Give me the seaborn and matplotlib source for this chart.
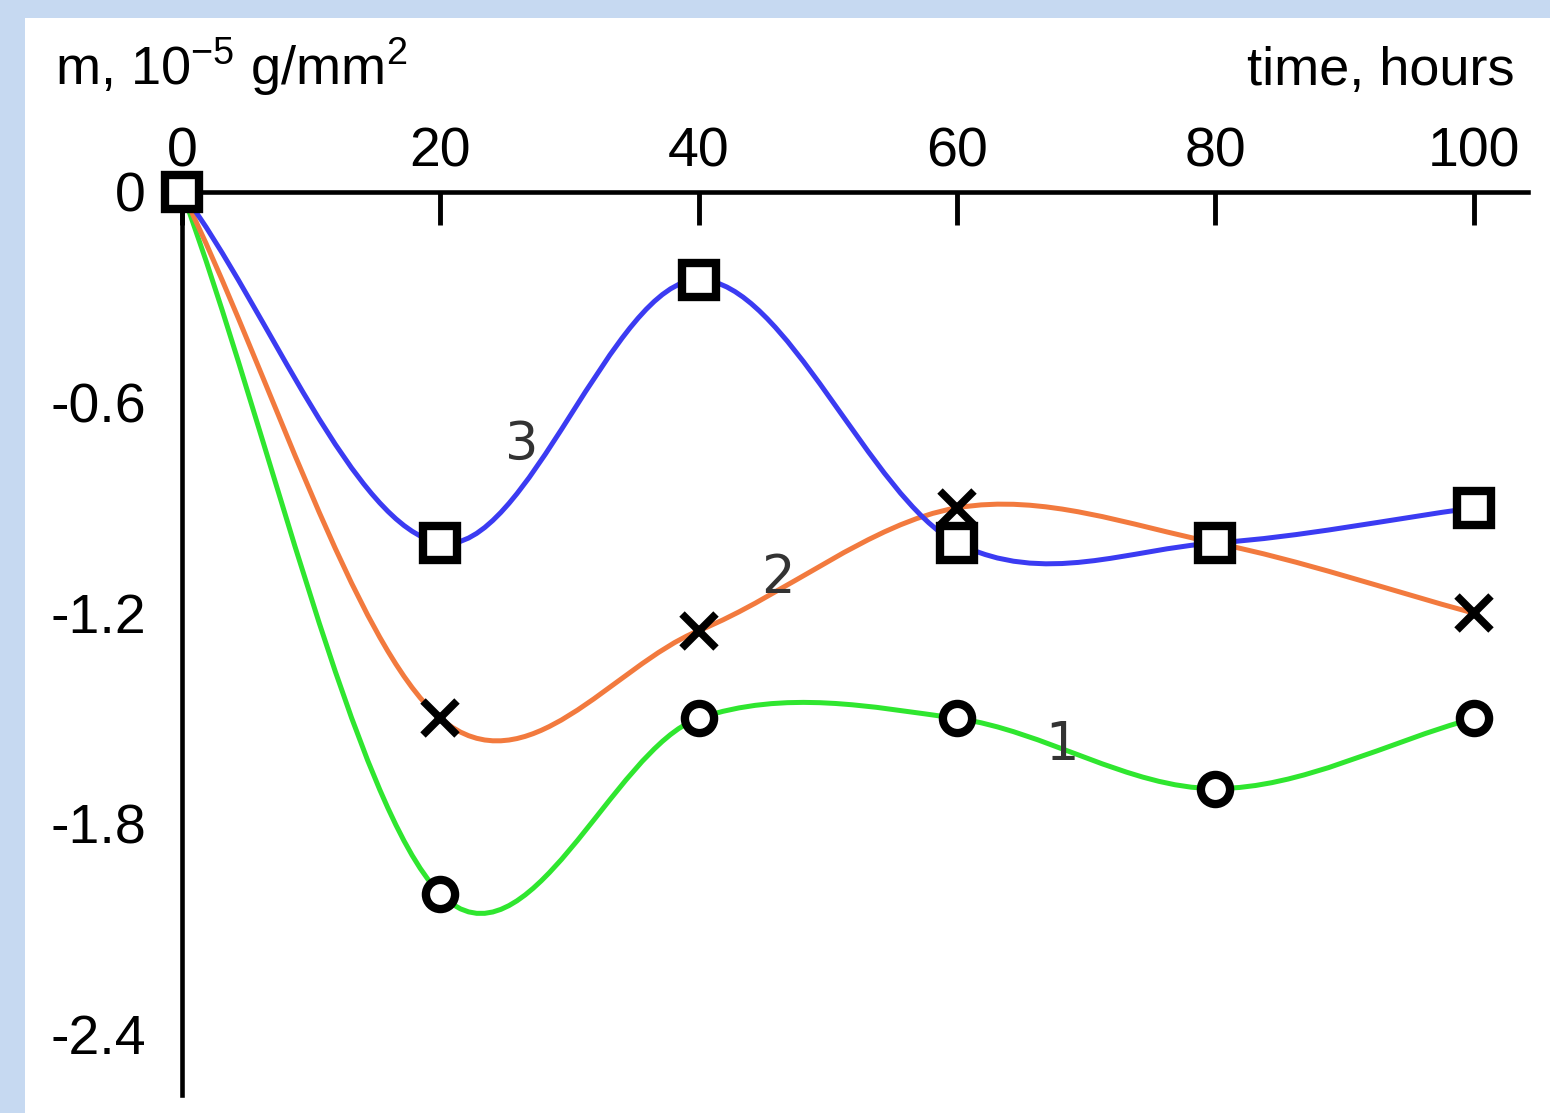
import numpy as np
import seaborn as sns
import matplotlib.pyplot as plt
from matplotlib.path import Path
from matplotlib.patches import PathPatch, Rectangle

hours = [0, 20, 40, 60, 80, 100]
mass_1 = [0, -2.0, -1.5, -1.5, -1.7, -1.5]
mass_2 = [0, -1.5, -1.25, -0.9, -1.0, -1.2]
mass_3 = [0, -1.0, -0.25, -1.0, -1.0, -0.9]

x_ticks = [0, 20, 40, 60, 80, 100]
y_ticks = [0, -0.6, -1.2, -1.8, -2.4]
y_tick_labels = ["0", "-0.6", "-1.2", "-1.8", "-2.4"]

curve_names = ["1", "2", "3"]
curve_colors = ["#2fe62f", "#f27a3e", "#3b3bf2"]
curve_markers = ["o", "x", "s"]


def smooth_path(xs, ys):
    # cubic bezier through every point, catmull-rom style tangents
    xs = np.asarray(xs, float)
    ys = np.asarray(ys, float)
    slopes = np.gradient(ys, xs)
    verts = [(xs[0], ys[0])]
    codes = [Path.MOVETO]
    for i in range(len(xs) - 1):
        h = (xs[i + 1] - xs[i]) / 3
        verts += [(xs[i] + h, ys[i] + slopes[i] * h),
                  (xs[i + 1] - h, ys[i + 1] - slopes[i + 1] * h),
                  (xs[i + 1], ys[i + 1])]
        codes += [Path.CURVE4] * 3
    return Path(verts, codes)


sns.set_style("white")
plt.rcParams["font.family"] = ["Liberation Sans", "DejaVu Sans"]
plt.rcParams["mathtext.fontset"] = "custom"
plt.rcParams["mathtext.rm"] = "Liberation Sans"
plt.rcParams["mathtext.default"] = "regular"
plt.rcParams["text.color"] = "black"

fig = plt.figure(figsize=(15.5, 11.13), dpi=100, facecolor="#c6d9f1")
fig.patches.append(Rectangle((25 / 1550, 0), 1, 1 - 18 / 1113, transform=fig.transFigure,
                             facecolor="white", edgecolor="none", zorder=-10))
ax = fig.add_axes([0.1174, 0.0162, 0.8684, 0.8113])
ax.set_facecolor("none")

series = [mass_1, mass_2, mass_3]
for vals, color in zip(series, curve_colors):
    ax.add_patch(PathPatch(smooth_path(hours, vals), facecolor="none", edgecolor=color,
                           lw=3.6, zorder=3, capstyle="round"))

marker_sizes = {"o": 21, "x": 25, "s": 24}
draw_order = [2, 0, 1]  # squares, then circles, then crosses on top
for i in draw_order:
    marker = curve_markers[i]
    sns.lineplot(x=hours, y=series[i], marker=marker, linestyle="", color="black",
                 ms=marker_sizes[marker], mew=6 if marker != "x" else 5.5,
                 mfc="white", mec="black", clip_on=False, zorder=5 + i, legend=False, ax=ax)

# curve numbers
label_style = dict(fontsize=38, color="#333333", family="DejaVu Sans",
                   ha="center", va="center", zorder=4)
ax.text(26.3, -0.72, curve_names[2], **label_style)
ax.text(46.1, -1.10, curve_names[1], **label_style)
ax.text(68.1, -1.575, curve_names[0], **label_style)

ax.set_xlim(0, 104.2)
ax.set_ylim(-2.573, 0)
ax.set_xticks(x_ticks)
ax.set_xticklabels([str(t) for t in x_ticks])
ax.set_yticks(y_ticks)
ax.set_yticklabels(y_tick_labels)
ax.set_xlabel("")
ax.set_ylabel("")
ax.xaxis.tick_top()
ax.tick_params(axis="x", direction="in", length=24, width=3.5, pad=10, labelsize=40,
               color="black", labelcolor="black")
ax.tick_params(axis="y", direction="in", length=20, width=3.5, pad=26, labelsize=40,
               color="black", labelcolor="black")
for side in ["right", "bottom"]:
    ax.spines[side].set_visible(False)
for side in ["top", "left"]:
    ax.spines[side].set_color("black")
    ax.spines[side].set_linewidth(3.3)

fig.text(55 / 1550, 1 - 85 / 1113, "m, 10$^{-5}$ g/mm$^{2}$", fontsize=39,
         ha="left", va="baseline")
fig.text(1515 / 1550, 1 - 85 / 1113, "time, hours", fontsize=39,
         ha="right", va="baseline")

fig.savefig("out.png", dpi=100, facecolor=fig.get_facecolor())
